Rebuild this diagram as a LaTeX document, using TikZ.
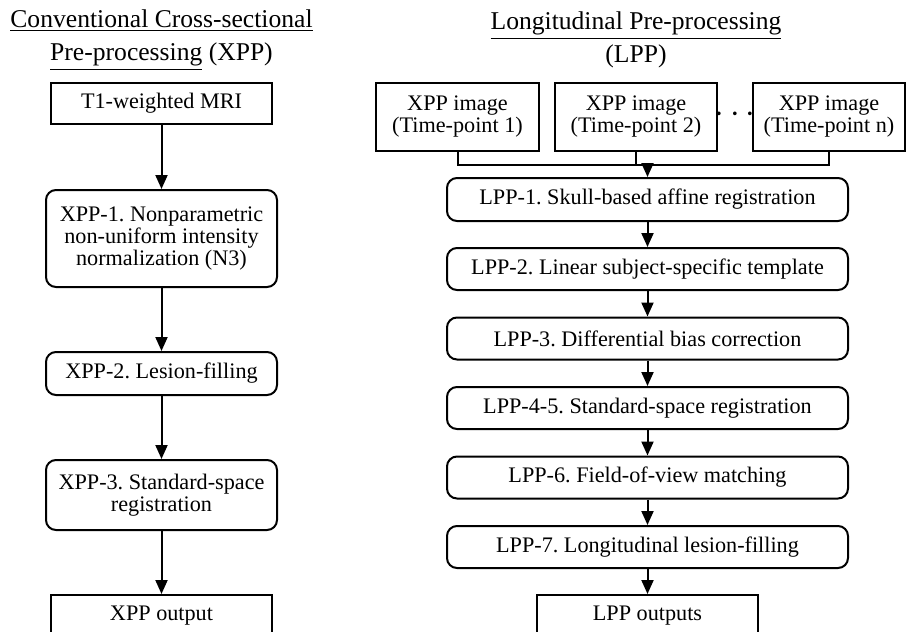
\documentclass[tikz,border=0pt]{standalone}
\usepackage{fontspec}
\setmainfont{Liberation Serif}
\usetikzlibrary{arrows.meta,positioning}

\tikzset{
  box/.style={draw,line width=1pt,inner sep=0pt,align=center,
    font=\fontsize{11.1}{11}\selectfont},
  rbox/.style={box,rounded corners=5pt},
  arr/.style={line width=1pt,-{Triangle[length=7pt,width=6pt]}},
  title/.style={align=center,font=\fontsize{12.8}{16.5}\selectfont}
}

\begin{document}
\frenchspacing
\begin{tikzpicture}[x=0.5pt,y=-0.5pt]
\clip (0,0) rectangle (909,631);

\node[title] (XPPtitle) at (161.5,40) {\underline{Conventional Cross-sectional}\\\underline{Pre-processing} (XPP)};
\node[title] (LPPtitle) at (636,40) {\underline{Longitudinal Pre-processing}\\(LPP)};

% cross-sectional column
\node[box,minimum width=110.5pt,minimum height=20.5pt] (T1MRI) at (161.5,103.5) {T1-weighted MRI};
\node[rbox,minimum width=115.5pt,minimum height=48.5pt] (XPP1) at (161.5,238.5) {XPP-1. Nonparametric\\non-uniform intensity\\normalization (N3)};
\node[rbox,minimum width=115.5pt,minimum height=21.5pt] (XPP2) at (161.5,373.5) {XPP-2. Lesion-filling};
\node[rbox,minimum width=115.5pt,minimum height=35pt] (XPP3) at (161.5,495) {XPP-3. Standard-space\\registration};
\node[box,minimum width=110.5pt,minimum height=21pt] (XPPout) at (161.5,616) {XPP output};

\draw[arr] (T1MRI) -- (XPP1);
\draw[arr] (XPP1) -- (XPP2);
\draw[arr] (XPP2) -- (XPP3);
\draw[arr] (XPP3) -- (XPPout);

% longitudinal column
\node[box,minimum width=81.5pt,minimum height=34pt] (Img1) at (457.5,117) {XPP image\\(Time-point 1)};
\node[box,minimum width=81pt,minimum height=34pt] (Img2) at (636,117) {XPP image\\(Time-point 2)};
\node[box,minimum width=76pt,minimum height=34pt] (Imgn) at (829,117) {XPP image\\(Time-point n)};
\node[font=\fontsize{17}{17}\selectfont,inner sep=0pt] (Dots) at (735,115) {$\cdots$};

\node[rbox,minimum width=200.5pt,minimum height=21.5pt] (LPP1) at (647.5,199.5) {LPP-1. Skull-based affine registration};
\node[rbox,minimum width=200.5pt,minimum height=21pt] (LPP2) at (647.5,269) {LPP-2. Linear subject-specific template};
\node[rbox,minimum width=200.5pt,minimum height=21pt] (LPP3) at (647.5,338.5) {LPP-3. Differential bias correction};
\node[rbox,minimum width=200.5pt,minimum height=21pt] (LPP45) at (647.5,408) {LPP-4-5. Standard-space registration};
\node[rbox,minimum width=200.5pt,minimum height=21pt] (LPP6) at (647.5,477.5) {LPP-6. Field-of-view matching};
\node[rbox,minimum width=200.5pt,minimum height=21pt] (LPP7) at (647.5,547) {LPP-7. Longitudinal lesion-filling};
\node[box,minimum width=110.5pt,minimum height=21pt] (LPPout) at (647.5,616) {LPP outputs};

\coordinate (Bus) at ([yshift=-6.5pt]Img1.south);
\draw[line width=1pt] (Img1.south) -- (Bus) -| (Imgn.south);
\draw[line width=1pt] (Img2.south) -- (Img2.south |- Bus);
\draw[arr] (LPP1.north |- Bus) -- (LPP1.north);

\draw[arr] (LPP1) -- (LPP2);
\draw[arr] (LPP2) -- (LPP3);
\draw[arr] (LPP3) -- (LPP45);
\draw[arr] (LPP45) -- (LPP6);
\draw[arr] (LPP6) -- (LPP7);
\draw[arr] (LPP7) -- (LPPout);
\end{tikzpicture}
\end{document}
